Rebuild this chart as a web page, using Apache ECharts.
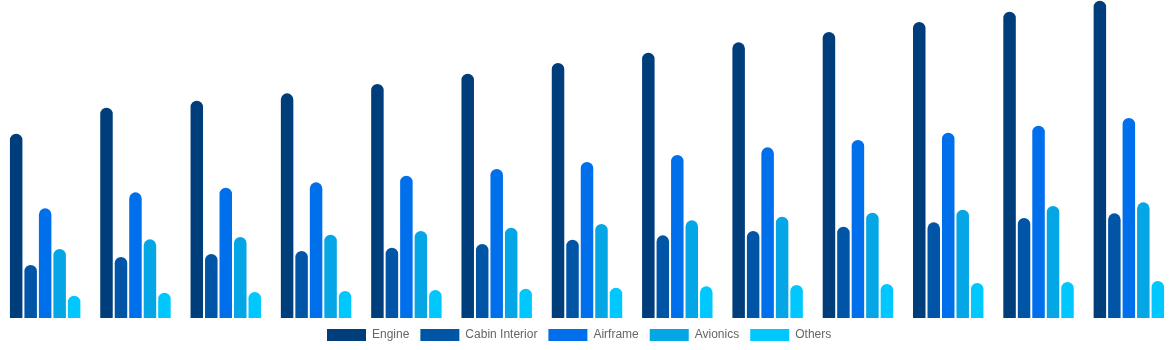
<!DOCTYPE html>
<html>
<head>
<meta charset="utf-8">
<script src="https://cdn.jsdelivr.net/npm/echarts@6/dist/echarts.min.js"></script>
<style>
html,body{margin:0;padding:0;background:#fff;}
#chart{width:1174px;height:350px;}
</style>
</head>
<body>
<div id="chart"></div>
<script>
const categories = ['2023','2024','2025','2026','2027','2028','2029','2030','2031','2032','2033','2034','2035'];
const seriesNames = ['Engine','Cabin Interior','Airframe','Avionics','Others'];
const engine   = [18.43, 21.03, 21.73, 22.47, 23.40, 24.43, 25.50, 26.53, 27.57, 28.60, 29.60, 30.63, 31.73];
const cabin    = [5.30, 6.10, 6.40, 6.70, 7.03, 7.40, 7.83, 8.27, 8.70, 9.13, 9.57, 10.00, 10.47];
const airframe = [10.97, 12.57, 13.03, 13.57, 14.23, 14.90, 15.60, 16.30, 17.07, 17.80, 18.53, 19.23, 20.00];
const avionics = [6.90, 7.87, 8.10, 8.33, 8.70, 9.03, 9.40, 9.77, 10.13, 10.53, 10.83, 11.20, 11.57];
const others   = [2.23, 2.53, 2.60, 2.70, 2.80, 2.93, 3.03, 3.17, 3.30, 3.40, 3.50, 3.60, 3.70];
const colors = ['#003d7b', '#0055a6', '#006fec', '#04a6e6', '#00c8ff'];

const dataSets = [engine, cabin, airframe, avionics, others];
const chart = echarts.init(document.getElementById('chart'));
chart.setOption({
  animation: false,
  color: colors,
  grid: { left: 0, right: 0, top: 0, bottom: 32, containLabel: false },
  legend: {
    data: seriesNames,
    bottom: 4,
    left: 322,
    itemWidth: 39,
    itemHeight: 12,
    itemGap: 11,
    icon: 'rect',
    textStyle: { color: '#666', fontSize: 12, padding: [0, 0, 0, 1], fontFamily: 'Arial, Liberation Sans, sans-serif' }
  },
  xAxis: {
    type: 'category',
    data: categories,
    show: false
  },
  yAxis: {
    type: 'value',
    min: 0,
    max: 31.8,
    show: false,
    splitLine: { show: false }
  },
  series: seriesNames.map((name, i) => ({
    name: name,
    type: 'bar',
    data: dataSets[i],
    barGap: '16%',
    barCategoryGap: '22%',
    itemStyle: { color: colors[i], borderRadius: [7, 7, 0, 0] }
  }))
});
</script>
</body>
</html>
